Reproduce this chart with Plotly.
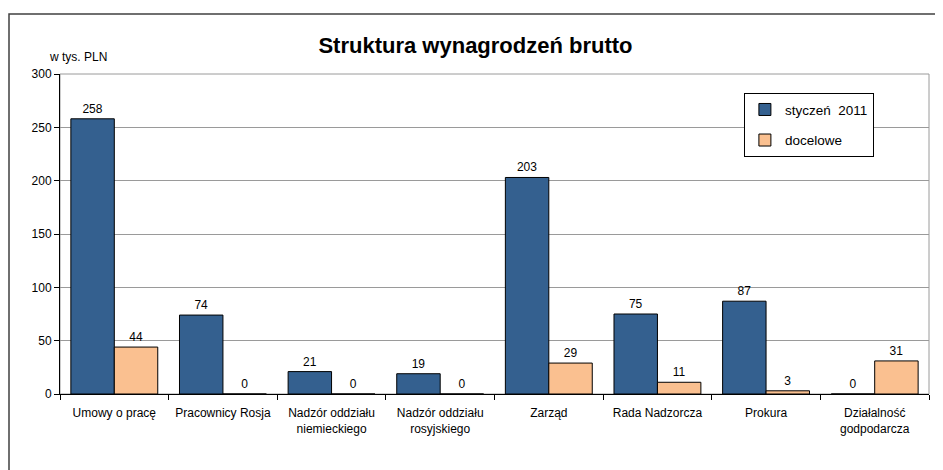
import plotly.graph_objects as go

categories = ["Umowy o pracę", "Pracownicy Rosja", "Nadzór oddziału<br>niemieckiego",
              "Nadzór oddziału<br>rosyjskiego", "Zarząd", "Rada Nadzorcza", "Prokura",
              "Działalność<br>godpodarcza"]
styczen_2011 = [258, 74, 21, 19, 203, 75, 87, 0]
docelowe = [44, 0, 0, 0, 29, 11, 3, 31]
y_ticks = [0, 50, 100, 150, 200, 250, 300]

font = "Liberation Sans, Arial, sans-serif"

# the page body adds an 8px offset, so the figure is a bit smaller than the window
W, H = 935, 462
L, R, T, B = 52, 14, 66, 76
pw, ph = W - L - R, H - T - B

fig = go.Figure()
fig.add_trace(go.Bar(
    x=categories, y=styczen_2011, name="styczeń  2011", legendgroup="a",
    marker=dict(color="#34608F", line=dict(color="black", width=1)),
    text=styczen_2011, textposition="outside", cliponaxis=False,
    textfont=dict(size=12, color="black", family=font),
))
fig.add_trace(go.Bar(
    x=categories, y=docelowe, name="docelowe", legendgroup="b",
    marker=dict(color="#FAC090", line=dict(color="black", width=1)),
    text=docelowe, textposition="outside", cliponaxis=False,
    textfont=dict(size=12, color="black", family=font),
))

fig.update_layout(
    width=W, height=H,
    margin=dict(l=L, r=R, t=T, b=B),
    paper_bgcolor="white", plot_bgcolor="white",
    font=dict(family=font, size=12, color="black"),
    title=dict(text="<b>Struktura wynagrodzeń brutto</b>", x=0.5, xref="container",
               y=1 - 37 / H, yref="container", yanchor="middle",
               font=dict(size=22, family=font, color="black")),
    barmode="group", bargap=0.2, bargroupgap=0,
    showlegend=True,
    legend=dict(x=0.787, y=0.94, xanchor="left", yanchor="top",
                bordercolor="black", borderwidth=1, bgcolor="white",
                font=dict(size=13.5, family=font), tracegroupgap=10,
                itemwidth=30),
    xaxis=dict(showline=True, linecolor="black", linewidth=1,
               ticks="outside", ticklen=5, tickcolor="black", tickson="boundaries",
               ticklabelstandoff=8, tickfont=dict(size=12), mirror=False),
    yaxis=dict(range=[0, 300], tickvals=y_ticks, showline=True, linecolor="black",
               linewidth=1, ticks="outside", ticklen=5, tickcolor="black",
               showgrid=True, gridcolor="#9a9a9a", gridwidth=1, zeroline=False,
               tickfont=dict(size=12)),
)

# outer chart frame (extends past the right and bottom edges)
fig.add_shape(type="rect", xref="paper", yref="paper",
              x0=-(L - 1) / pw, x1=(W + 20 - L) / pw, y0=-(B + 20) / ph, y1=(ph + T - 6) / ph,
              line=dict(color="#404040", width=1.5), layer="below")
# plot area frame (grey, top and right)
fig.add_shape(type="rect", xref="paper", yref="paper", x0=0, x1=1, y0=0, y1=1,
              line=dict(color="#9a9a9a", width=1), layer="below")

fig.add_annotation(text="w tys. PLN", xref="paper", yref="paper",
                   x=-13 / pw, y=(ph + 17) / ph, xanchor="left", yanchor="middle",
                   showarrow=False, font=dict(size=12, family=font))

fig.write_html("out.html")
